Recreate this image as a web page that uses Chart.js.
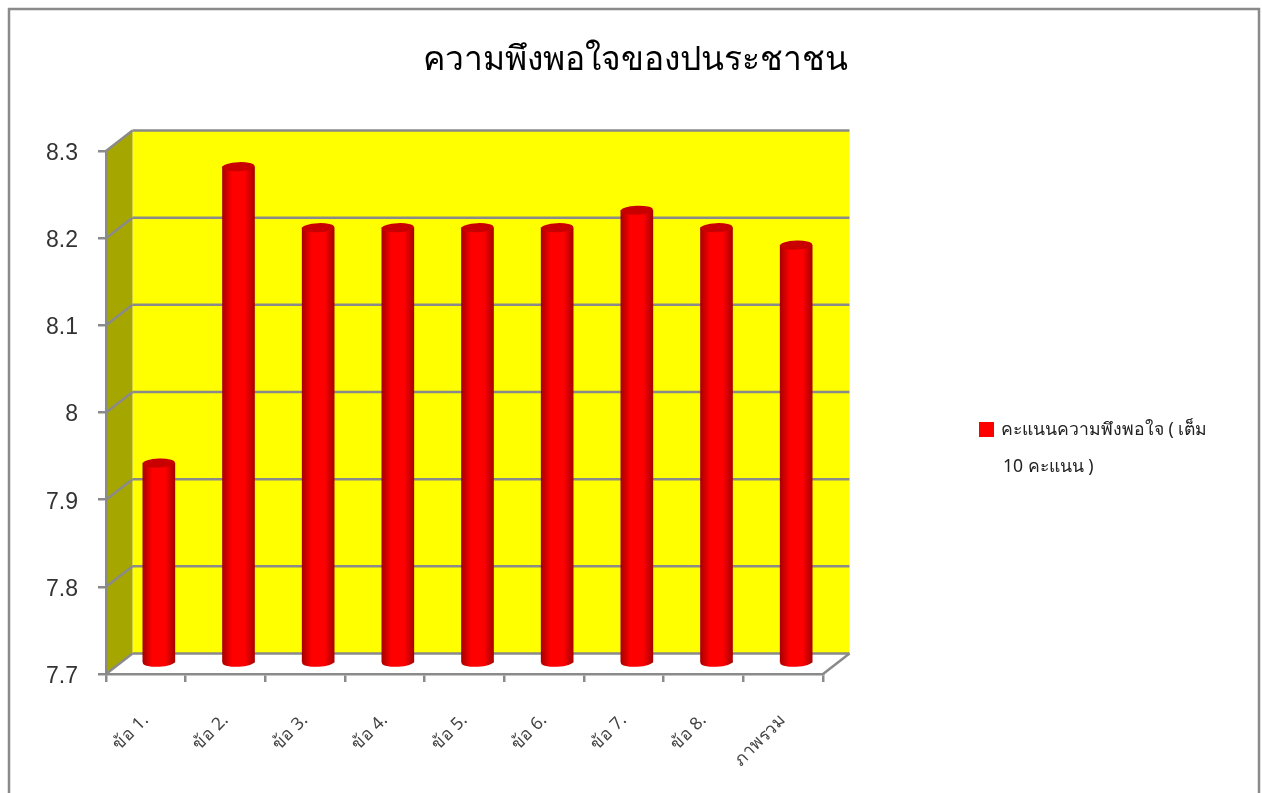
<!DOCTYPE html>
<html>
<head>
<meta charset="utf-8">
<title>chart</title>
<style>
  html, body { margin: 0; padding: 0; background: #fff; overflow: hidden; }
  canvas { display: block; }
</style>
<script src="https://cdn.jsdelivr.net/npm/chart.js@4"></script>
</head>
<body>
<canvas id="scoreChart" width="1262" height="793"></canvas>
<script>
const chartTitle = "ความพึงพอใจของปนระชาชน";
const legendLines = ["คะแนนความพึงพอใจ ( เต็ม", "10 คะแนน )"];
const categories = ["ข้อ 1.", "ข้อ 2.", "ข้อ 3.", "ข้อ 4.", "ข้อ 5.", "ข้อ 6.", "ข้อ 7.", "ข้อ 8.", "ภาพรวม"];
const scores = [7.93, 8.27, 8.2, 8.2, 8.2, 8.2, 8.22, 8.2, 8.18];
const valueTicks = [7.7, 7.8, 7.9, 8, 8.1, 8.2, 8.3];

const thaiFont = "'Noto Sans', Tahoma, sans-serif";
const GREY = "#8a8a8a";
const LINE_W = 2.5;
// fake 3d: back wall sits up and to the right of the axes, bars halfway in
const DEPTH_X = 26.5;
const DEPTH_Y = 20.5;
const BAR_DX = 13;
const BAR_DY = 10.5;
const BAR_RY = 4.5;
const BAR_TILT = -0.04;

function line(ctx, x1, y1, x2, y2) {
  ctx.beginPath();
  ctx.moveTo(x1, y1);
  ctx.lineTo(x2, y2);
  ctx.stroke();
}

const wallPlugin = {
  id: "wall",
  beforeDraw(chart) {
    const { ctx, chartArea: a, scales } = chart;
    ctx.save();

    // outer frame, runs off the bottom of the picture
    ctx.strokeStyle = GREY;
    ctx.lineWidth = LINE_W;
    ctx.strokeRect(9, 9, 1250, 820);

    ctx.fillStyle = "#ffff00";
    ctx.fillRect(a.left + DEPTH_X, a.top - DEPTH_Y, a.width, a.height);

    ctx.fillStyle = "#a6a600";
    ctx.beginPath();
    ctx.moveTo(a.left, a.top);
    ctx.lineTo(a.left + DEPTH_X, a.top - DEPTH_Y);
    ctx.lineTo(a.left + DEPTH_X, a.bottom - DEPTH_Y);
    ctx.lineTo(a.left, a.bottom);
    ctx.closePath();
    ctx.fill();

    valueTicks.forEach(function (v) {
      const y = scales.y.getPixelForValue(v);
      line(ctx, a.left, y, a.left + DEPTH_X, y - DEPTH_Y);
      line(ctx, a.left + DEPTH_X, y - DEPTH_Y, a.right + DEPTH_X, y - DEPTH_Y);
    });
    line(ctx, a.right, a.bottom, a.right + DEPTH_X, a.bottom - DEPTH_Y);
    ctx.restore();
  },
  afterDraw(chart) {
    const ctx = chart.ctx;
    ctx.save();
    ctx.textBaseline = "middle";

    ctx.fillStyle = "#000";
    ctx.font = "33.6px " + thaiFont;
    ctx.textAlign = "center";
    ctx.fillText(chartTitle, 635, 60);

    ctx.fillStyle = "#ff0000";
    ctx.fillRect(979, 422, 15, 15);

    ctx.fillStyle = "#222";
    ctx.font = "17.6px " + thaiFont;
    ctx.textAlign = "left";
    ctx.fillText(legendLines[0], 1001, 430);
    ctx.fillText(legendLines[1], 1003, 467);
    ctx.restore();
  }
};

function barGradient(ctx, x, halfWidth) {
  const g = ctx.createLinearGradient(x - halfWidth, 0, x + halfWidth, 0);
  g.addColorStop(0, "#a80000");
  g.addColorStop(0.3, "#ff0000");
  g.addColorStop(0.7, "#ff0000");
  g.addColorStop(1, "#a80000");
  return g;
}

const cylinderPlugin = {
  id: "cylinder",
  beforeDatasetDraw(chart) {
    chart.ctx.save();
    chart.ctx.translate(BAR_DX, -BAR_DY);
  },
  afterDatasetDraw(chart, args) {
    const ctx = chart.ctx;
    args.meta.data.forEach(function (bar) {
      const rx = bar.width / 2;
      ctx.fillStyle = barGradient(ctx, bar.x, rx);
      ctx.beginPath();
      ctx.ellipse(bar.x, bar.base, rx, BAR_RY, BAR_TILT, 0, Math.PI * 2);
      ctx.fill();

      ctx.fillStyle = "#c80000";
      ctx.beginPath();
      ctx.ellipse(bar.x, bar.y, rx, BAR_RY, BAR_TILT, 0, Math.PI * 2);
      ctx.fill();
    });
    ctx.restore();
  }
};

new Chart(document.getElementById("scoreChart"), {
  type: "bar",
  data: {
    labels: categories,
    datasets: [{
      label: legendLines.join(" "),
      data: scores,
      base: valueTicks[0],
      barThickness: 32,
      clip: false,
      backgroundColor: function (c) {
        const x = c.chart.scales.x ? c.chart.scales.x.getPixelForValue(c.dataIndex) : NaN;
        // options also get resolved before the scales have been laid out
        if (!isFinite(x)) return "#ff0000";
        return barGradient(c.chart.ctx, x, 16);
      }
    }]
  },
  plugins: [wallPlugin, cylinderPlugin],
  options: {
    responsive: false,
    animation: false,
    layout: { padding: { left: 0, right: 439, top: 151, bottom: 0 } },
    plugins: {
      legend: { display: false },
      title: { display: false },
      tooltip: { enabled: false }
    },
    scales: {
      x: {
        afterFit: function (s) { s.height = 119; },
        grid: { drawOnChartArea: false, color: GREY, lineWidth: LINE_W, tickLength: 8 },
        border: { color: GREY, width: LINE_W },
        ticks: {
          color: "#444",
          font: { family: thaiFont, size: 17.5 },
          minRotation: 45,
          maxRotation: 45,
          padding: 28
        }
      },
      y: {
        min: 7.7,
        max: 8.3,
        afterFit: function (s) { s.width = 106; },
        afterBuildTicks: function (s) {
          s.ticks = valueTicks.map(function (v) { return { value: v }; });
        },
        grid: { drawOnChartArea: false, color: GREY, lineWidth: LINE_W, tickLength: 8 },
        border: { color: GREY, width: LINE_W },
        ticks: {
          color: "#333",
          // empty first line plus a small lineHeight nudges the label down a little
          font: { family: "'Liberation Sans', Arial, sans-serif", size: 23, lineHeight: "5px" },
          padding: 20,
          callback: function (v) { return ["", String(v)]; }
        }
      }
    }
  }
});
</script>
</body>
</html>
